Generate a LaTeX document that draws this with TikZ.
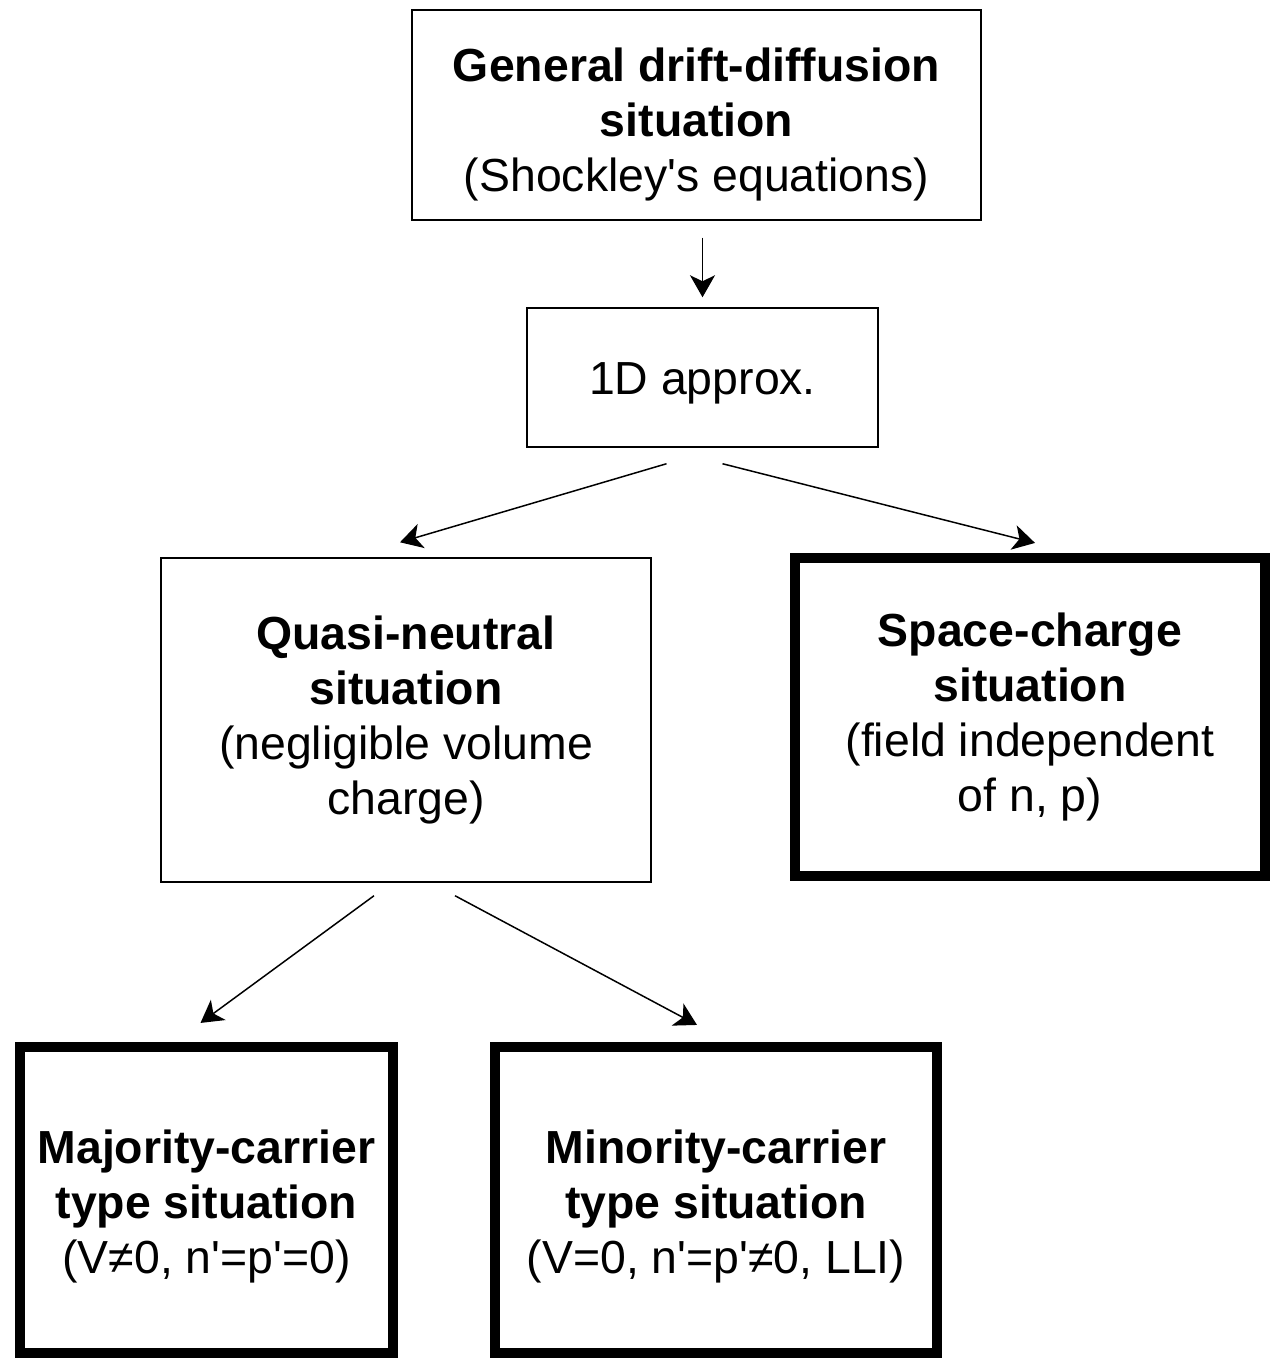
\documentclass[tikz,border=0pt]{standalone}
\usepackage{fontspec}
\setmainfont{Liberation Sans}[Ligatures=TeXOff]
\usetikzlibrary{arrows.meta,calc}
\begin{document}
\begin{tikzpicture}[x=0.02cm,y=-0.02cm,
    box/.style={draw,line width=0.85pt,align=center,inner sep=0pt,
      font=\fontsize{26.4}{31.3}\selectfont},
    thickbox/.style={box,line width=5.8pt},
    arr/.style={line width=0.85pt,-{Stealth[length=0.44cm,width=0.5cm,inset=0.12cm]}}]
  \useasboundingbox (0,0) rectangle (1273,1361);
  \node[box,minimum width=11.38cm,minimum height=4.2cm] (top) at (696.5,115)
    {\rule{0pt}{29.5pt}\textbf{General drift-diffusion}\\\textbf{situation}\\(Shockley's equations)};
  \node[box,minimum width=7.02cm,minimum height=2.78cm] (oned) at (702.5,377.5) {\rule{0pt}{25pt}1D approx.};
  \node[box,minimum width=9.8cm,minimum height=6.48cm] (quasi) at (406,720)
    {\textbf{Quasi-neutral}\\\textbf{situation}\\(negligible volume\\charge)};
  \node[thickbox,minimum width=9.4cm,minimum height=6.36cm] (space) at (1030,717)
    {\textbf{Space-charge}\\\textbf{situation}\\(field independent\\of n, p)};
  \node[thickbox,minimum width=7.46cm,minimum height=6.12cm] (major) at (206.5,1200)
    {\rule{0pt}{26pt}\textbf{Majority-carrier}\\\textbf{type situation}\\(V≠0, n'=p'=0)};
  \node[thickbox,minimum width=8.84cm,minimum height=6.12cm] (minor) at (716,1200)
    {\rule{0pt}{26pt}\textbf{Minority-carrier}\\\textbf{type situation}\\(V=0, n'=p'≠0, LLI)};
  \draw[arr] ($(top.south)+(6,17)$) -- ($(oned.north)+(0,-10)$);
  \draw[arr] ($(oned.south)+(-36,16)$) -- ($(quasi.north)+(-6,-15)$);
  \draw[arr] ($(oned.south)+(20,16)$) -- ($(space.north)+(5,-10)$);
  \draw[arr] ($(quasi.south)+(-32,13)$) -- ($(major.north)+(-6,-19)$);
  \draw[arr] ($(quasi.south)+(49,13)$) -- ($(minor.north)+(-19,-17)$);
\end{tikzpicture}
\end{document}
